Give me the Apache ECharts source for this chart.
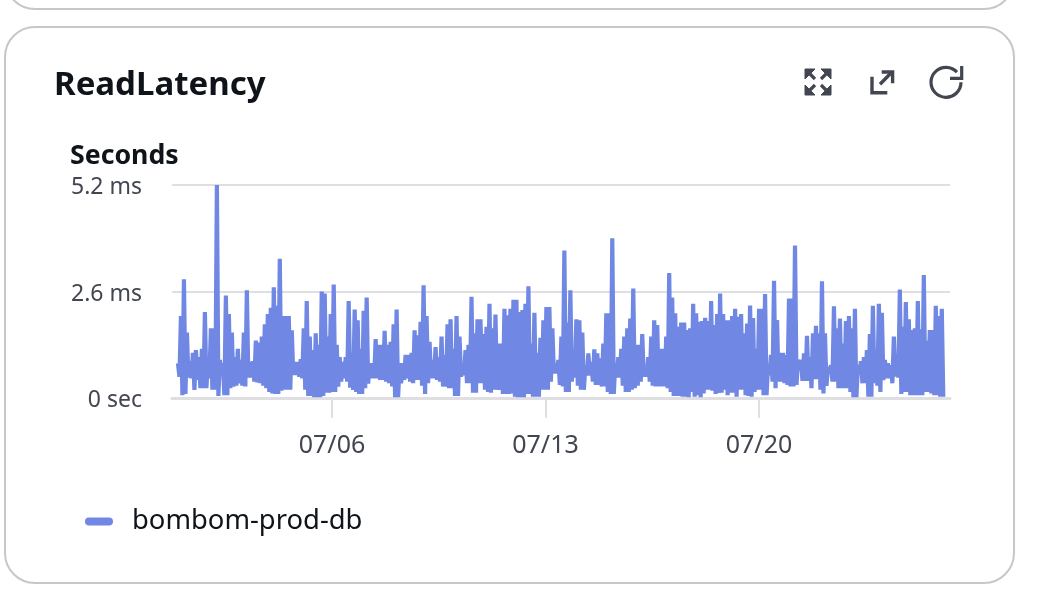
<!DOCTYPE html>
<html><head><meta charset="utf-8">
<style>html,body{margin:0;padding:0;background:#fff}#c{width:1044px;height:598px}</style>
<script src="https://cdn.jsdelivr.net/npm/echarts@6/dist/echarts.min.js"></script>
</head><body><div id="c"></div>
<script>
const chartTitle = 'ReadLatency';
const unitTitle = 'Seconds';
const seriesName = 'bombom-prod-db';
const yTicks = [0, 2.6, 5.2];
const yTickLabels = ['0 sec', '2.6 ms', '5.2 ms'];
const xTickDays = [6, 13, 20];
const highMs = [
.85,2.0,2.9,1.6,.9,1.1,1.17,1.0,1.2,2.1,.93,1.7,1.7,5.2,.93,.85,2.5,2.05,1.6,1.0,1.2,.93,1.6,2.63,.88,.9,1.4,1.35,1.5,1.8,
2.05,2.2,2.7,2.25,3.4,2.0,2.0,2.0,1.65,.88,.88,.95,1.7,2.37,1.5,1.17,1.58,1.3,2.6,2.55,1.5,2.05,2.77,1.3,1.0,.88,1.0,2.37,1.1,2.16,
1.9,1.2,2.13,2.45,.85,.85,1.44,1.3,1.3,1.64,1.3,1.37,1.8,2.16,.85,.85,1.05,1.05,1.1,1.65,1.53,1.86,2.75,2.0,
1.37,.93,1.24,1.0,1.5,1.05,1.8,1.92,1.2,2.0,1.5,.76,1.17,1.3,2.47,1.58,1.92,1.92,1.56,1.74,2.3,1.7,2.04,1.33,1.33,2.18,
2.02,2.18,2.4,2.4,2.1,2.15,2.3,2.73,1.33,2.08,1.1,1.47,1.9,2.22,2.22,1.7,.85,.93,1.5,3.6,1.84,2.63,1.13,1.92,1.9,1.6,.76,1.09,.88,1.19,
1.09,.97,1.33,2.07,2.07,3.9,.85,1.0,1.2,1.5,1.7,1.94,2.67,1.3,1.3,1.56,.8,1.0,1.5,1.9,1.78,1.2,1.2,1.5,3.05,2.45,2.07,1.74,1.84,1.84,1.66,
1.7,2.3,2.07,1.86,1.88,1.96,1.88,2.37,1.78,2.05,2.55,2.05,1.9,1.9,2.0,2.18,1.98,2.05,1.58,1.82,2.26,1.95,1.2,2.18,2.18,2.54,.8,1.05,2.86,1.9,
1.1,1.1,1.05,2.43,2.43,3.72,.93,.93,1.09,1.52,1.0,1.58,1.76,1.58,2.85,1.58,.76,.8,2.24,1.7,1.94,1.33,1.88,2.0,1.7,2.18,.8,.9,1.0,1.17,
1.56,2.25,1.17,2.3,2.08,.93,.85,.8,1.5,.97,2.65,1.74,2.34,1.92,1.66,1.7,2.37,1.68,3.0,1.4,1.66,1.66,2.25,2.0,2.18];
const lowMs = [
.52,.07,.1,.5,.48,.2,.44,.24,.24,.24,.48,.2,.2,.05,.56,.07,.07,.24,.28,.3,.36,.3,.28,.5,.5,.4,.38,.36,.3,.24,
.15,.11,.1,.1,.18,.2,.2,.2,.56,.56,.52,.48,.2,.05,.05,.02,.02,.02,.05,.13,.13,.15,.15,.28,.4,.48,.4,.25,.2,.15,
.1,.1,.24,.35,.48,.48,.48,.44,.44,.4,.36,.28,.02,.02,.36,.44,.48,.4,.36,.44,.44,.3,.1,.36,
.48,.48,.44,.4,.28,.28,.24,.24,.05,.05,.52,.56,.36,.36,.13,.13,.36,.36,.2,.15,.13,.2,.2,.2,.1,.1,
.1,.11,.03,.02,.02,.02,.1,.1,.03,.03,.03,.2,.2,.2,.4,.6,.6,.32,.28,.15,.15,.4,.5,.3,.2,.2,.55,.55,.4,.32,
.32,.28,.28,.15,.1,.1,.5,.5,.3,.15,.15,.2,.24,.3,.4,.52,.52,.4,.3,.28,.28,.28,.28,.24,.15,.05,.05,.05,.03,.03,.02,
.15,.03,.07,.02,.11,.2,.2,.18,.1,.12,.13,.2,.07,.13,.13,.03,.2,.2,.07,.05,.03,.15,.2,.2,.07,.07,.56,.4,.24,.4,
.4,.36,.32,.28,.28,.32,.68,.42,.42,.42,.24,.46,.46,.2,.11,.3,.6,.4,.4,.24,.24,.24,.24,.15,.02,.02,.59,.36,.36,.03,
.03,.36,.3,.15,.44,.48,.48,.36,.52,.5,.1,.15,.15,.07,.07,.07,.07,.07,.15,.15,.11,.07,.07,.03,.03];

const HOUR = 3600e3;
const firstSample = Date.UTC(2025, 5, 30, 22, 47);
const sampleStep = 2.357 * HOUR;
const points = [];
highMs.forEach((h, i) => {
  const t = firstSample + i * sampleStep;
  points.push([t, h]);
  points.push([t + sampleStep / 2, lowMs[i]]);
});
const tickTimes = xTickDays.map(d => Date.UTC(2025, 6, d));
const pad = n => String(n).padStart(2, '0');
const FONT = '"Noto Sans", sans-serif';
const ink = '#0f141a', soft = '#424650', rule = '#dedee3', blue = '#7088e4', icon = '#424650';

const iconStyle = w => ({ fill: 'none', stroke: icon, lineWidth: w, lineCap: 'butt', lineJoin: 'miter' });
const pl = (points, w = 3.2) => ({ type: 'polyline', silent: true, shape: { points }, style: iconStyle(w) });
const tri = points => ({ type: 'polygon', silent: true, shape: { points }, style: { fill: icon, stroke: icon, lineWidth: 1, lineJoin: 'round' } });

const chart = echarts.init(document.getElementById('c'), null, { renderer: 'canvas' });
chart.setOption({
  animation: false,
  backgroundColor: '#fff',
  title: [
    { text: chartTitle, left: 54, top: 69, padding: 0, textStyle: { fontFamily: FONT, fontSize: 33, fontWeight: 700, color: ink } },
    { text: unitTitle, left: 70, top: 143, padding: 0, textStyle: { fontFamily: FONT, fontSize: 26.7, fontWeight: 700, color: ink } }
  ],
  grid: { left: 172, right: 94, top: 185, bottom: 200, containLabel: false },
  legend: {
    left: 85, top: 508, padding: 0, itemWidth: 28, itemHeight: 8, itemGap: 8,
    icon: 'path://M4 0H24A4 4 0 0 1 24 8H4A4 4 0 0 1 4 0Z', selectedMode: false,
    textStyle: { fontFamily: FONT, fontSize: 27.4, color: ink, padding: [0, 0, 0, 14] },
    data: [seriesName]
  },
  tooltip: { show: false },
  xAxis: {
    type: 'value',
    min: Date.UTC(2025, 5, 30, 18, 6),
    max: Date.UTC(2025, 6, 26, 6, 17),
    axisLine: { show: true, onZero: false, lineStyle: { color: rule, width: 3 } },
    axisTick: { show: true, customValues: tickTimes, length: 20, lineStyle: { color: rule, width: 2 } },
    axisLabel: {
      customValues: tickTimes, margin: 35, hideOverlap: false,
      fontFamily: FONT, fontSize: 25, color: soft,
      formatter: v => { const d = new Date(v); return pad(d.getUTCMonth() + 1) + '/' + pad(d.getUTCDate()); }
    },
    splitLine: { show: false }
  },
  yAxis: {
    type: 'value', min: 0, max: 5.2, interval: 2.6,
    axisLine: { show: false }, axisTick: { show: false },
    axisLabel: {
      margin: 30, fontFamily: FONT, fontSize: 23, color: soft,
      rich: { t: { fontFamily: FONT, fontSize: 23, color: soft, padding: [5, 0, 0, 0] } },
      formatter: v => '{t|' + (yTickLabels[yTicks.findIndex(t => Math.abs(t - v) < 1e-6)] || '') + '}'
    },
    splitLine: { show: true, lineStyle: { color: rule, width: 2 } }
  },
  series: [{
    name: seriesName, type: 'line', data: points,
    showSymbol: false, symbol: 'none', sampling: false, smooth: false,
    lineStyle: { color: blue, width: 4.2, join: 'bevel' },
    itemStyle: { color: blue }, clip: true
  }],
  graphic: [
    { type: 'rect', silent: true, shape: { x: 5, y: 27, width: 1009, height: 556, r: 30 }, style: { fill: 'none', stroke: '#c6c6cd', lineWidth: 2 } },
    { type: 'rect', silent: true, shape: { x: 5, y: -400, width: 1009, height: 409, r: 30 }, style: { fill: 'none', stroke: '#c6c6cd', lineWidth: 2 } },
    tri([[805,69],[815,69],[805,79]]), tri([[831,69],[821,69],[831,79]]),
    tri([[831,95],[821,95],[831,85]]), tri([[805,95],[815,95],[805,85]]),
    pl([[808,72],[815,79]]), pl([[828,72],[821,79]]), pl([[828,92],[821,85]]), pl([[808,92],[815,85]]),
    pl([[872,76.7],[872,92.7],[887.3,92.7]],3.4), pl([[880,84.3],[891,73]],3.4), pl([[881.7,72],[892.6,72],[892.6,83.3]],3.4),
    { type: 'arc', silent: true, shape: { cx: 946, cy: 82.3, r: 15, startAngle: -0.75, endAngle: 0, clockwise: false }, style: iconStyle(3.2) },
    pl([[961.7,66],[961.7,78.3],[950,78.3]])
  ]
});
</script></body></html>
